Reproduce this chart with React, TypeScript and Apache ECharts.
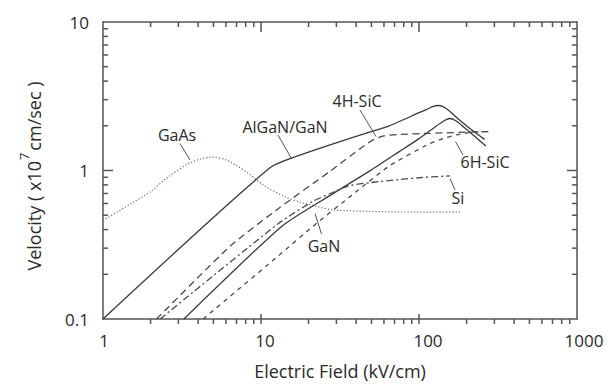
import React, { useEffect, useRef } from "react";
import * as echarts from "echarts";

// ---- axis ticks ----
const fieldTicks = [1, 10, 100, 1000];
const fieldTickLabels = ["1", "10", "100", "1000"];
const velocityTickLabels = ["0.1", "1", "10"];
const majorFieldTicks = [10, 100];
const majorVelocityTicks = [1];
const minorFieldTicks = [2, 3, 4, 5, 6, 7, 8, 9, 20, 30, 40, 50, 60, 70, 80, 90, 200, 300, 400, 500, 600, 700, 800, 900];
const minorVelocityTicks = [0.2, 0.3, 0.4, 0.5, 0.6, 0.7, 0.8, 0.9, 2, 3, 4, 5, 6, 7, 8, 9];

// ---- series: [electric field kV/cm, velocity x1e7 cm/s] ----
const alganGan: number[][] = [
  [1, 0.1], [11.5, 1.05], [20, 1.33], [40, 1.7], [65, 2.0], [100, 2.45], [112, 2.58],
  [122, 2.69], [132, 2.74], [142, 2.69], [155, 2.53], [175, 2.25], [210, 1.92], [260, 1.62],
];
const gan: number[][] = [
  [3.25, 0.1], [13.5, 0.42], [27.4, 0.68], [50, 1.01], [75, 1.34], [100, 1.64],
  [125, 1.95], [145, 2.17], [157, 2.24], [170, 2.17], [190, 1.98], [225, 1.7], [265, 1.46],
];
const sic4h: number[][] = [
  [2.18, 0.1], [6.4, 0.31], [12.9, 0.555], [27.4, 0.99], [45, 1.47], [52, 1.62],
  [60, 1.71], [75, 1.75], [117, 1.78], [275, 1.83],
];
const sic6h: number[][] = [
  [4.3, 0.1], [12.8, 0.265], [21.3, 0.42], [40, 0.72], [65.5, 1.08], [117, 1.52],
  [150, 1.67], [173, 1.74], [210, 1.8], [240, 1.82],
];
const si: number[][] = [
  [2.3, 0.1], [12.9, 0.44], [21.3, 0.62], [27.4, 0.7], [36, 0.79], [50, 0.83],
  [75, 0.87], [110, 0.9], [157, 0.92],
];
const gaas: number[][] = [
  [1, 0.46], [1.55, 0.61], [2.0, 0.72], [2.5, 0.88], [3.4, 1.1], [4.1, 1.19], [5.0, 1.23],
  [6.0, 1.18], [7.0, 1.08], [8.5, 0.94], [10.5, 0.79], [14, 0.67], [17, 0.62], [22, 0.575],
  [28, 0.545], [50, 0.53], [100, 0.525], [185, 0.525],
];

const FONT = "'Open Sans', 'DejaVu Sans', sans-serif";
const AXIS_COLOR = "#555";
const TEXT_COLOR = "#2a2a2a";
// horizontal nudges (px) of the x tick labels, as in the original figure
const xLabelShift = [1, 4, 9, 7];

const GRID = { left: 103, top: 22, right: 31, bottom: 61 };

function norm(v: number) {
  return String(Number(v.toPrecision(6)));
}

export default function App() {
  const ref = useRef<HTMLDivElement>(null);
  useEffect(() => {
    if (!ref.current) return;
    const chart = echarts.init(ref.current, undefined, { renderer: "svg" });
    const axisBase: any = {
      type: "log",
      logBase: 10,
      axisLine: { show: true, lineStyle: { color: AXIS_COLOR, width: 1.5 } },
      axisTick: { show: false },
      splitLine: { show: false },
      minorTick: { show: false },
    };
    const lineSeries = (name: string, data: number[][], type: any, color: string, width: number, smooth: number) => ({
      name,
      type: "line",
      data,
      showSymbol: false,
      symbol: "none",
      smooth,
      lineStyle: { color, width, type },
      z: 3,
    });
    const leader = (x1: number, y1: number, x2: number, y2: number) => ({
      type: "line",
      shape: { x1, y1, x2, y2 },
      style: { stroke: "#555", lineWidth: 1 },
      silent: true,
    });
    const label = (text: string, x: number, y: number, size = 16) => ({
      type: "text",
      x,
      y,
      style: { text, fontSize: size, fontFamily: FONT, fill: TEXT_COLOR, align: "center", verticalAlign: "middle" },
      silent: true,
    });
    const baseGraphic: any[] = [
      {
        type: "text",
        x: 30,
        y: 176,
        rotation: Math.PI / 2,
        style: {
          text: "{n|Velocity ( x10}{s|7}{n|cm/sec )}",
          align: "center",
          verticalAlign: "middle",
          fill: TEXT_COLOR,
          fontFamily: FONT,
          rich: {
            n: { fontSize: 18, fontFamily: FONT, fill: TEXT_COLOR, lineHeight: 26, verticalAlign: "bottom" },
            s: { fontSize: 13, fontFamily: FONT, fill: TEXT_COLOR, lineHeight: 13, verticalAlign: "top", padding: [0, 2, 0, 1] },
          },
        },
        silent: true,
      },
      label("GaAs", 177, 135),
      leader(180, 143.5, 190, 160),
      label("AlGaN/GaN", 285, 127),
      leader(278, 135, 291.5, 158.5),
      label("4H-SiC", 357, 101),
      leader(360, 110, 376, 136.5),
      label("6H-SiC", 485, 162),
      leader(455.5, 141.5, 463, 155),
      label("Si", 458, 198),
      leader(450, 178.5, 455, 190),
      label("GaN", 324, 246),
      leader(315, 213.5, 321.5, 234),
    ];
    chart.setOption({
      animation: false,
      backgroundColor: "#fff",
      grid: GRID,
      xAxis: [
        {
          ...axisBase,
          min: 1,
          max: 1000,
          position: "bottom",
          axisLabel: { show: false },
          name: "Electric Field (kV/cm)",
          nameLocation: "middle",
          nameGap: 43,
          nameTextStyle: { fontSize: 18, fontFamily: FONT, color: TEXT_COLOR },
        },
        { ...axisBase, min: 1, max: 1000, position: "top", axisLabel: { show: false } },
      ],
      yAxis: [
        {
          ...axisBase,
          min: 0.1,
          max: 10,
          position: "left",
          axisLabel: {
            show: true,
            fontSize: 17, fontFamily: FONT, color: TEXT_COLOR, margin: 14,
            formatter: (v: number) => {
              const s = norm(v);
              return velocityTickLabels.includes(s) ? s : "";
            },
          },
        },
        { ...axisBase, min: 0.1, max: 10, position: "right", axisLabel: { show: false } },
      ],
      graphic: baseGraphic,
      series: [
        lineSeries("GaAs", gaas, [1.2, 2], "#6a6a6a", 1.2, 0.3),
        lineSeries("AlGaN/GaN", alganGan, "solid", "#3a3a3a", 1.3, 0.2),
        lineSeries("GaN", gan, "solid", "#3a3a3a", 1.3, 0.2),
        lineSeries("4H-SiC", sic4h, [7, 4.5], "#4a4a4a", 1.3, 0.2),
        lineSeries("6H-SiC", sic6h, [4.5, 4.5], "#4a4a4a", 1.3, 0.2),
        lineSeries("Si", si, [7, 3, 2, 3], "#4a4a4a", 1.3, 0.2),
      ],
    });

    // ticks and x labels placed through the axes' own scales
    const W = 608, H = 385;
    const top = GRID.top, bottom = H - GRID.bottom, left = GRID.left, right = W - GRID.right;
    const tickStyle = { stroke: AXIS_COLOR, lineWidth: 1.5 };
    const extra: any[] = [];
    const addX = (v: number, len: number) => {
      const x = chart.convertToPixel({ xAxisIndex: 0 }, v) as number;
      extra.push({ type: "line", shape: { x1: x, y1: bottom, x2: x, y2: bottom - len }, style: tickStyle, silent: true, z: 10 });
      extra.push({ type: "line", shape: { x1: x, y1: top, x2: x, y2: top + len }, style: tickStyle, silent: true, z: 10 });
    };
    const addY = (v: number, len: number) => {
      const y = chart.convertToPixel({ yAxisIndex: 0 }, v) as number;
      extra.push({ type: "line", shape: { x1: left, y1: y, x2: left + len, y2: y }, style: tickStyle, silent: true, z: 10 });
      extra.push({ type: "line", shape: { x1: right, y1: y, x2: right - len, y2: y }, style: tickStyle, silent: true, z: 10 });
    };
    minorFieldTicks.forEach((v) => addX(v, 5));
    majorFieldTicks.forEach((v) => addX(v, 10));
    minorVelocityTicks.forEach((v) => addY(v, 5));
    majorVelocityTicks.forEach((v) => addY(v, 10));
    fieldTicks.forEach((v, i) => {
      const x = chart.convertToPixel({ xAxisIndex: 0 }, v) as number;
      extra.push({
        type: "text",
        x: x + xLabelShift[i],
        y: bottom + 8,
        style: { text: fieldTickLabels[i], fontSize: 17, fontFamily: FONT, fill: TEXT_COLOR, align: "center", verticalAlign: "top" },
        silent: true,
      });
    });
    chart.setOption({ graphic: [...baseGraphic, ...extra] });

    return () => chart.dispose();
  }, []);
  return <div ref={ref} style={{ position: "fixed", left: 0, top: 0, width: 608, height: 385 }} />;
}
